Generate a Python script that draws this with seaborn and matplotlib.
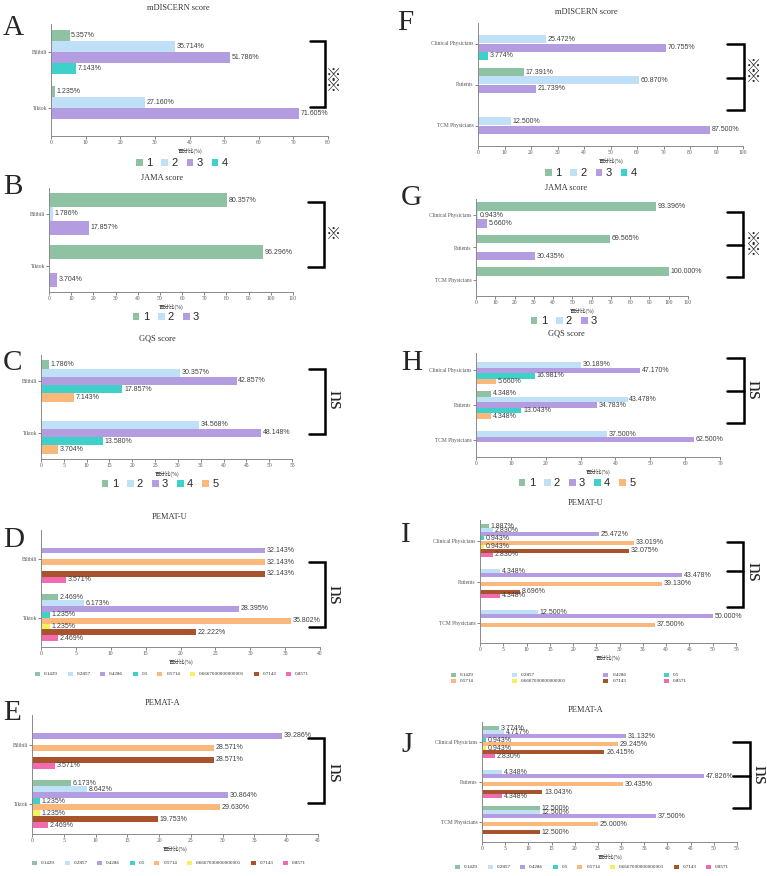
import pandas as pd
import seaborn as sns
import matplotlib.pyplot as plt
from matplotlib.lines import Line2D
from matplotlib.ticker import MultipleLocator

W, H = 767, 876

platforms = ["Bilibili", "Tiktok"]
populations = ["Clinical Physicians", "Patients", "TCM Physicians"]
score3 = ["1", "2", "3"]
score4 = ["1", "2", "3", "4"]
score5 = ["1", "2", "3", "4", "5"]
pemat_levels = ["0.1429", "0.2857", "0.4286", "0.5", "0.5714",
                "0.6667000000000001", "0.7143", "0.8571"]

# percentages, rows = groups, columns = score levels
mdiscern_platform = [[5.357, 35.714, 51.786, 7.143],
                     [1.235, 27.160, 71.605, 0]]
jama_platform = [[80.357, 1.786, 17.857],
                 [96.296, 0, 3.704]]
gqs_platform = [[1.786, 30.357, 42.857, 17.857, 7.143],
                [0, 34.568, 48.148, 13.580, 3.704]]
pematu_platform = [[0, 0, 32.143, 0, 32.143, 0, 32.143, 3.571],
                   [2.469, 6.173, 28.395, 1.235, 35.802, 1.235, 22.222, 2.469]]
pemata_platform = [[0, 0, 39.286, 0, 28.571, 0, 28.571, 3.571],
                   [6.173, 8.642, 30.864, 1.235, 29.630, 1.235, 19.753, 2.469]]

mdiscern_pop = [[0, 25.472, 70.755, 3.774],
                [17.391, 60.870, 21.739, 0],
                [0, 12.500, 87.500, 0]]
jama_pop = [[93.396, 0.943, 5.660],
            [69.565, 0, 30.435],
            [100.000, 0, 0]]
gqs_pop = [[0, 30.189, 47.170, 16.981, 5.660],
           [4.348, 43.478, 34.783, 13.043, 4.348],
           [0, 37.500, 62.500, 0, 0]]
pematu_pop = [[1.887, 2.830, 25.472, 0.943, 33.019, 0.943, 32.075, 2.830],
              [0, 4.348, 43.478, 0, 39.130, 0, 8.696, 4.348],
              [0, 12.500, 50.000, 0, 37.500, 0, 0, 0]]
pemata_pop = [[3.774, 4.717, 31.132, 0.943, 29.245, 0.943, 26.415, 2.830],
              [0, 4.348, 47.826, 0, 30.435, 0, 13.043, 4.348],
              [12.500, 12.500, 37.500, 0, 25.000, 0, 12.500, 0]]

colors = ["#8fc2a2", "#bfe0f7", "#b39de0", "#3fd0c9", "#fbb87c",
          "#f6f05c", "#a8532b", "#f06caf"]

sns.set_style("ticks")
plt.rcParams['font.family'] = ['Liberation Serif', 'Noto Sans CJK SC']

fig = plt.figure(figsize=(W / 100, H / 100), dpi=100)


def px(x, y):
    return x / W, 1 - y / H


def panel(rect, title, title_xy, groups, levels, values, xmax, step, leg_xy, pemat=False, ncol=8):
    l, t, r, b = rect
    ax = fig.add_axes([l / W, 1 - b / H, (r - l) / W, (b - t) / H])
    df = pd.DataFrame(values, index=groups, columns=levels)
    df = df.reset_index(names="group").melt(id_vars="group", var_name="score", value_name="pct")
    pal = dict(zip(levels, colors[:len(levels)]))
    sns.barplot(data=df, x="pct", y="group", hue="score", order=groups, hue_order=levels,
                palette=pal, orient="h", errorbar=None, saturation=1, linewidth=0, ax=ax)
    for cont in ax.containers:
        labs = [f"{v:.3f}%" if v > 0 else "" for v in cont.datavalues]
        ax.bar_label(cont, labels=labs, padding=1.2, fontsize=5, color="#404040",
                     family=["Liberation Sans"])
    ax.set_xlim(0, xmax)
    ax.xaxis.set_major_locator(MultipleLocator(step))
    ax.set_ylabel("")
    ax.set_xlabel("百分比(%)", fontsize=4, labelpad=2, color="#333333")
    ax.tick_params(axis="both", labelsize=4, length=2, width=0.5, colors="#555555", pad=1)
    sns.despine(ax=ax)
    for s in ["left", "bottom"]:
        ax.spines[s].set_color("#8a8a8a")
        ax.spines[s].set_linewidth(0.7)
    fig.text(*px(*title_xy), title, fontsize=6, ha="center", va="center", color="#333333")

    handles, labels = ax.get_legend_handles_labels()
    ax.get_legend().remove()
    lx, ly = px(*leg_xy)
    if pemat:
        if ncol == 4:
            order = [0, 4, 1, 5, 2, 6, 3, 7]
            handles = [handles[i] for i in order]
            labels = [labels[i] for i in order]
        ax.legend(handles, labels, loc="center", bbox_to_anchor=(lx, ly),
                  bbox_transform=fig.transFigure, ncol=ncol, frameon=False,
                  fontsize=3.6, handlelength=1.0, handleheight=1.0,
                  handletextpad=0.8, columnspacing=1.9 if ncol == 8 else 7.5,
                  labelspacing=0.2, borderpad=0)
    else:
        ax.legend(handles, labels, loc="center", bbox_to_anchor=(lx, ly),
                  bbox_transform=fig.transFigure, ncol=len(levels), frameon=False,
                  prop={"family": ["Liberation Sans"], "size": 8},
                  handlelength=0.6, handleheight=0.6, handletextpad=0.3,
                  columnspacing=0.8, borderpad=0)
    return ax


def bracket(x0, x1, ys, mark, mx, my):
    top, bot = ys[0], ys[-1]
    xs = [x0, x1, x1, x0]
    yy = [top, top, bot, bot]
    fig.add_artist(Line2D([x / W for x in xs], [1 - y / H for y in yy], color="black",
                          lw=1.8, solid_joinstyle="miter"))
    if len(ys) == 3:
        fig.add_artist(Line2D([x0 / W, x1 / W], [1 - ys[1] / H] * 2, color="black", lw=1.8))
    if mark == "ns":
        fig.text(*px(mx, my), "ns", rotation=270, fontsize=16, ha="center", va="center")
    else:
        txt = "\n".join(["※"] * len(mark))
        fig.text(*px(mx, my), txt, fontsize=11, ha="center", va="center", linespacing=0.8)


# left column: platforms
panel((51, 24, 328, 136), "mDISCERN score", (178, 8), platforms, score4, mdiscern_platform, 80, 10, (182, 163))
panel((49, 188, 293, 292), "JAMA score", (162, 178), platforms, score3, jama_platform, 110, 10, (166, 317))
panel((41, 355, 292, 459), "GQS score", (157, 339), platforms, score5, gqs_platform, 55, 5, (160, 484))
panel((41, 530, 320, 647), "PEMAT-U", (170, 517), platforms, pemat_levels, pematu_platform, 40, 5, (172, 674), pemat=True)
panel((32, 715, 318, 834), "PEMAT-A", (163, 703), platforms, pemat_levels, pemata_platform, 45, 5, (169, 863), pemat=True)

# right column: populations
panel((478, 23, 743, 146), "mDISCERN score", (586, 12), populations, score4, mdiscern_pop, 100, 10, (591, 173))
panel((476, 199, 688, 296), "JAMA score", (566, 188), populations, score3, jama_pop, 110, 10, (564, 321))
panel((476, 353, 720, 457), "GQS score", (566, 333), populations, score5, gqs_pop, 70, 10, (577, 483))
panel((480, 520, 736, 643), "PEMAT-U", (586, 503), populations, pemat_levels, pematu_pop, 55, 5, (569, 678), pemat=True, ncol=4)
panel((482, 722, 737, 842), "PEMAT-A", (586, 710), populations, pemat_levels, pemata_pop, 55, 5, (592, 867), pemat=True)

bracket(310, 325, [41, 107], "**", 334, 82)
bracket(308, 324, [202, 267], "*", 334, 235)
bracket(309, 325, [369, 434], "ns", 334, 400)
bracket(309, 325, [562, 627], "ns", 334, 595)
bracket(308, 324, [738, 803], "ns", 334, 773)
bracket(727, 744, [44, 78, 110], "**", 753, 73)
bracket(727, 743, [212, 245, 277], "**", 753, 246)
bracket(727, 744, [358, 391, 423], "ns", 753, 390)
bracket(727, 743, [542, 571, 607], "ns", 753, 572)
bracket(733, 750, [742, 776, 808], "ns", 759, 775)

for letter, x, y in [("A", 3, 28), ("B", 3, 187), ("C", 3, 363), ("D", 3, 540), ("E", 3, 713),
                     ("F", 397, 23), ("G", 401, 198), ("H", 401, 363), ("I", 401, 535), ("J", 401, 745)]:
    fig.text(*px(x, y), letter, fontsize=21, ha="left", va="center")

fig.savefig("out.png", dpi=100)
